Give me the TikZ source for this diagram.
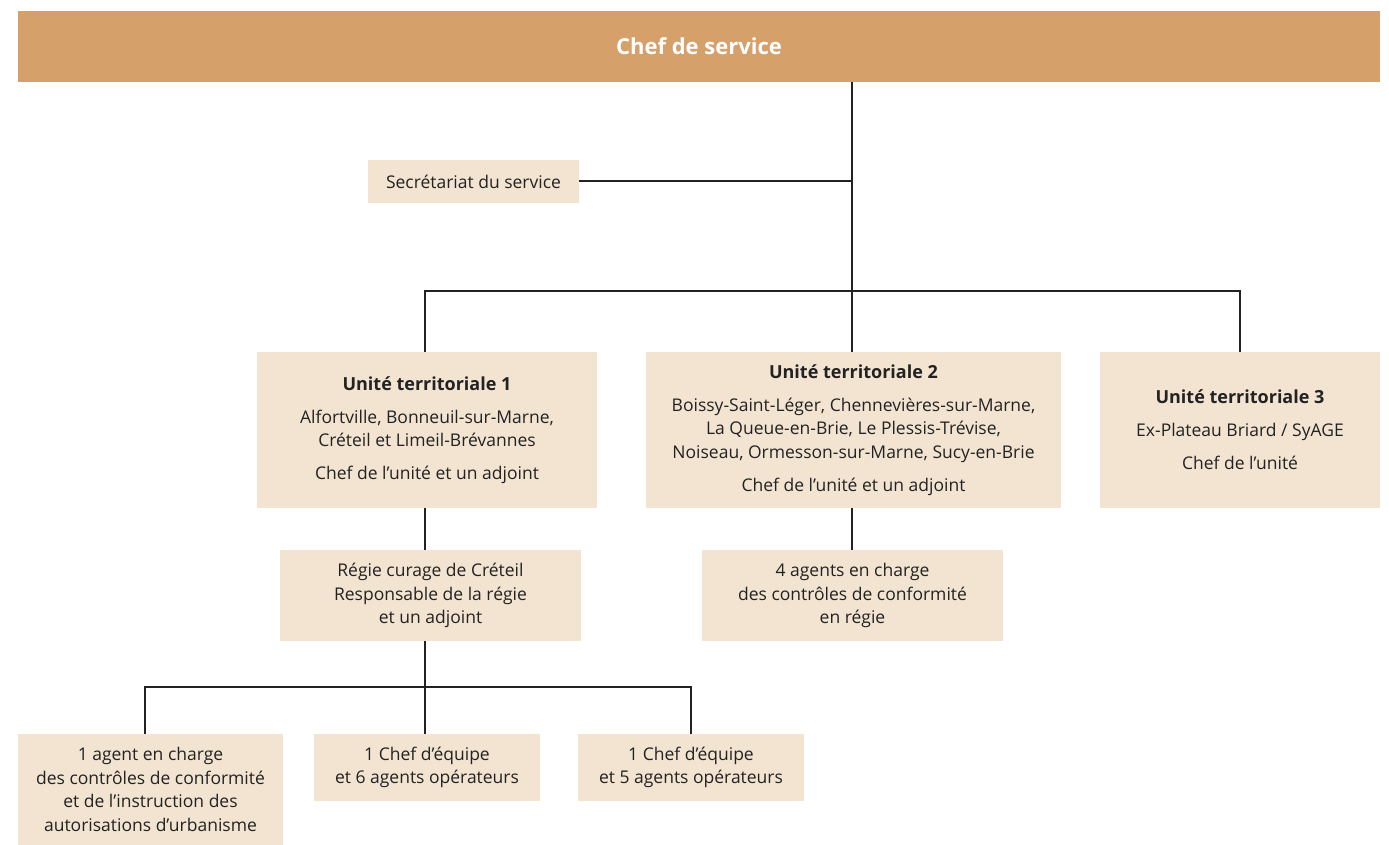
\documentclass[tikz,border=0pt]{standalone}
\usepackage{fontspec}
\setmainfont{Open Sans}
\usetikzlibrary{positioning}

\definecolor{barfill}{HTML}{D6A06B}
\definecolor{boxfill}{HTML}{F3E4D2}
\definecolor{ink}{HTML}{222222}

\newcommand{\utitle}[1]{{\fontsize{18}{23.5}\selectfont\bfseries #1}\\[9.5pt]}

\begin{document}
\begin{tikzpicture}[
  x=1pt, y=-1pt,
  every node/.style={font=\fontsize{17.5}{23.5}\selectfont, text=ink},
  chefbox/.style={fill=barfill, inner sep=0pt, minimum width=1362pt, minimum height=71pt,
    font=\fontsize{22}{26}\selectfont\bfseries, text=white},
  orgbox/.style={fill=boxfill, inner sep=0pt, align=center},
  link/.style={draw=ink, line width=2pt}
]
\useasboundingbox (0,0) rectangle (1389,845);

% top
\node[chefbox] (chef) at (699,46.5) {Chef de service};
\node[orgbox, minimum width=211pt, minimum height=43pt] (secr) at (473.5,181.5) {Secrétariat du service};

% unites territoriales
\node[orgbox, minimum width=340pt, minimum height=156pt] (ut1) at (427,430)
  {\utitle{Unité territoriale 1}Alfortville, Bonneuil-sur-Marne,\\Créteil et Limeil-Brévannes\\[9.5pt]Chef de l’unité et un adjoint};
\node[orgbox, minimum width=415pt, minimum height=156pt] (ut2) at (853.5,430)
  {\utitle{Unité territoriale 2}Boissy-Saint-Léger, Chennevières-sur-Marne,\\La Queue-en-Brie, Le Plessis-Trévise,\\Noiseau, Ormesson-sur-Marne, Sucy-en-Brie\\[9.5pt]Chef de l’unité et un adjoint};
\node[orgbox, minimum width=280pt, minimum height=156pt] (ut3) at (1240,430)
  {\utitle{Unité territoriale 3}Ex-Plateau Briard / SyAGE\\[9.5pt]Chef de l’unité};

% regie et agents
\node[orgbox, minimum width=301pt, minimum height=91pt] (regie) at (430.5,595.5)
  {Régie curage de Créteil\\Responsable de la régie\\et un adjoint};
\node[orgbox, minimum width=301pt, minimum height=91pt] (agents) at (852.5,595.5)
  {4 agents en charge\\des contrôles de conformité\\en régie};

% equipes
\node[orgbox, minimum width=265pt, minimum height=111pt] (equipe1) at (150.5,789.5)
  {1 agent en charge\\des contrôles de conformité\\et de l’instruction des\\autorisations d’urbanisme};
\node[orgbox, minimum width=226pt, minimum height=67pt] (equipe2) at (427,767.5)
  {1 Chef d’équipe\\et 6 agents opérateurs};
\node[orgbox, minimum width=226pt, minimum height=67pt] (equipe3) at (691,767.5)
  {1 Chef d’équipe\\et 5 agents opérateurs};

\coordinate (bus) at (852,291);
\coordinate (regbus) at (425,687);

% connectors
\draw[link] (chef.south -| bus) -- (bus |- ut2.north);
\draw[link] (secr.east) -- (secr.east -| bus);
\draw[link] ([xshift=-2pt]ut1.north) |- (bus) -| (ut3.north);
\draw[link] ([xshift=-2pt]ut1.south) -- ([xshift=-2pt]ut1.south |- regie.north);
\draw[link] ([xshift=-1.5pt]ut2.south) -- ([xshift=-1.5pt]ut2.south |- agents.north);
\draw[link] (regie.south -| regbus) -- (regbus |- equipe2.north);
\draw[link] ([xshift=-6pt]equipe1.north) |- (regbus) -| (equipe3.north);
\end{tikzpicture}
\end{document}
